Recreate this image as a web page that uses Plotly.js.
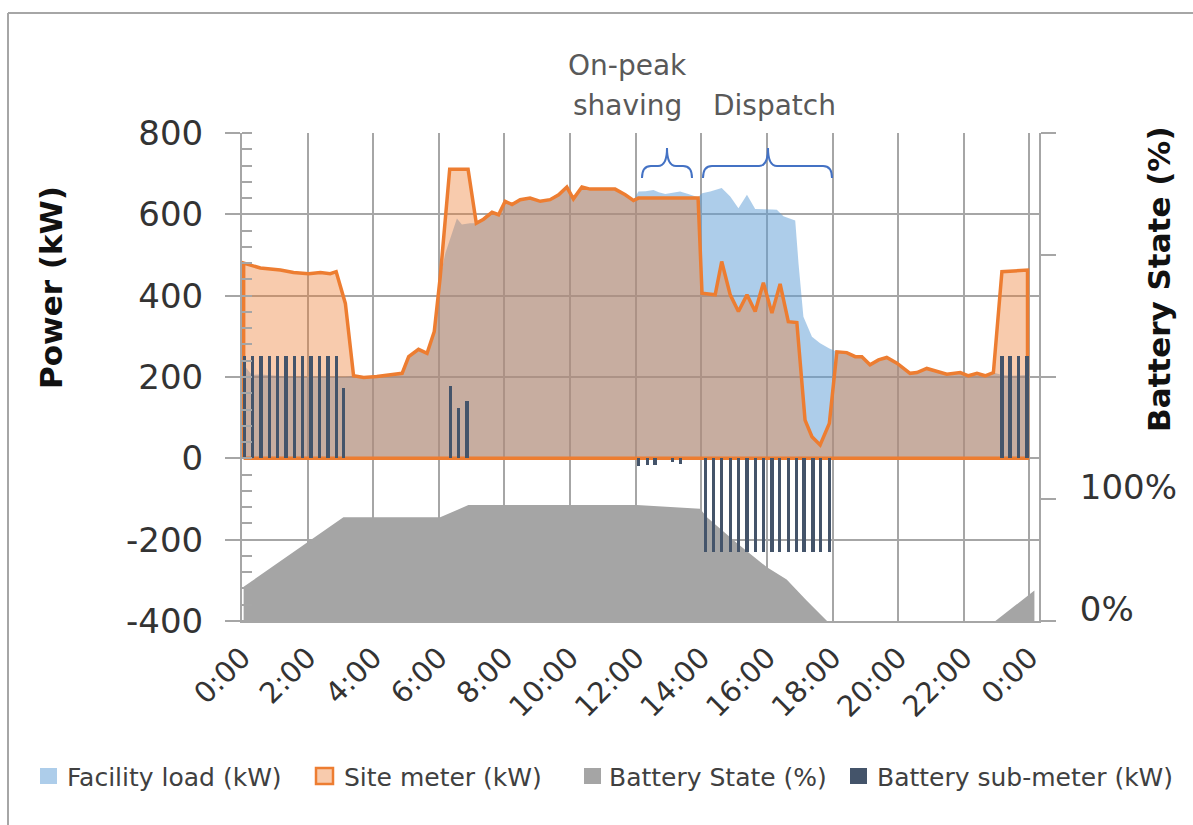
<!DOCTYPE html>
<html><head><meta charset="utf-8">
<script src="https://cdn.plot.ly/plotly-3.0.1.min.js"></script>
<style>html,body{margin:0;padding:0;background:#fff;}#chart{width:1193px;height:825px;}</style>
</head><body><div id="chart"></div>
<script>
// ---- data (hours of day) ----
const tickHours = [0, 2, 4, 6, 8, 10, 12, 14, 16, 18, 20, 22, 24];
const tickLabels = ['0:00','2:00','4:00','6:00','8:00','10:00','12:00','14:00','16:00','18:00','20:00','22:00','0:00'];

const powerTicks = [-400, -200, 0, 200, 400, 600, 800];
const powerTickLabels = ['-400', '-200', '0', '200', '400', '600', '800'];
const stateTicks = [0, 100, 200, 300, 400];
const stateTickLabels = ['0%', '100%', '', '', ''];

const siteTime = [0.05,0.56,1.17,1.57,2.03,2.39,2.69,2.87,3.15,3.4,3.71,4.11,4.42,4.88,5.08,5.38,5.64,5.86,6.04,6.33,6.89,7.14,7.36,7.62,7.82,8.02,8.23,8.48,8.78,9.09,9.39,9.65,9.9,10.1,10.36,10.61,10.92,11.37,11.68,11.93,12.08,13.9,14.02,14.42,14.62,14.88,15.13,15.39,15.64,15.89,16.15,16.4,16.65,16.91,17.16,17.37,17.62,17.9,18.13,18.43,18.69,18.89,19.14,19.4,19.65,19.96,20.36,20.57,20.87,21.18,21.48,21.89,22.14,22.4,22.65,22.9,23.16,23.94];
const siteKW = [480,468,463,457,454,457,454,459,381,203,199,201,205,209,250,268,258,312,445,711,711,578,588,605,599,632,624,636,640,632,636,648,667,638,667,662,662,662,648,634,640,640,406,402,484,402,361,402,361,432,357,429,336,334,94,53,33,86,262,260,250,250,230,242,248,234,209,211,221,213,207,211,203,209,203,211,459,463];

const facTime = [0.05,0.3,0.56,1.17,1.57,2.03,2.39,2.69,2.87,3.15,3.4,3.71,4.11,4.42,4.88,5.08,5.38,5.64,5.86,6.04,6.2,6.35,6.55,6.7,6.95,7.14,7.36,7.62,7.82,8.02,8.23,8.48,8.78,9.09,9.39,9.65,9.9,10.1,10.36,10.61,10.92,11.37,11.68,11.93,12.08,12.3,12.54,12.7,12.9,13.1,13.35,13.6,13.9,14.02,14.27,14.62,14.88,15.13,15.39,15.64,15.89,16.15,16.3,16.5,16.86,16.96,17.11,17.37,17.62,17.9,18.13,18.43,18.69,18.89,19.14,19.4,19.65,19.96,20.36,20.57,20.87,21.18,21.48,21.89,22.14,22.4,22.65,22.9,23.16,23.5,23.94];
const facKW = [230,205,206,203,200,200,201,200,200,200,203,199,201,205,209,250,268,258,312,445,505,540,590,575,578,578,588,605,599,632,624,636,640,632,636,648,667,638,667,662,662,662,648,634,656,657,660,654,650,652,656,650,642,652,656,665,644,615,648,613,613,612,611,595,585,480,348,299,283,270,262,260,250,250,230,242,248,234,209,211,221,213,207,211,203,209,203,211,205,203,205];

const batTime = [0.05,3.09,6.04,6.9,12.03,13.96,14.17,15.08,16.0,16.6,17.2,17.83,22.96,24.15];
const batPct = [28,85,85,95,95,92,85,64,44,34,17,0,0,25];

const barTime = [0.07,0.33,0.58,0.83,1.09,1.34,1.6,1.85,2.1,2.36,2.62,2.87,3.09,
  6.36,6.6,6.86,
  12.08,12.36,12.59,13.13,13.36,
  14.12,14.37,14.62,14.88,15.13,15.39,15.64,15.89,16.15,16.38,16.66,16.89,17.13,17.4,17.64,17.9,
  23.16,23.41,23.66,23.92];
const barKW = [252,252,252,252,252,252,252,252,252,252,252,252,173,
  178,125,141,
  -19,-16,-16,-8,-14,
  -231,-231,-231,-231,-231,-231,-231,-231,-231,-231,-231,-231,-231,-231,-231,-231,
  252,252,252,252];

const seriesNames = ['Facility load (kW)', 'Site meter (kW)', 'Battery State (%)', 'Battery sub-meter (kW)'];

// ---- layout helpers (pixel -> paper) ----
const W = 1193, H = 825, M = {l: 242, r: 154, t: 133, b: 204};
const PW = W - M.l - M.r, PH = H - M.t - M.b;
const px = p => (p - M.l) / PW;
const py = p => (H - M.b - p) / PH;
const FONT = 'DejaVu Sans';
const GRID = '#A6A6A6';

// closed outline for the site meter area (Excel draws the full border)
const siteX = [siteTime[0]].concat(siteTime, [siteTime[siteTime.length - 1], siteTime[0]]);
const siteY = [0].concat(siteKW, [0, 0]);

const traces = [
  {name: seriesNames[2], x: batTime, y: batPct, yaxis: 'y', type: 'scatter', mode: 'lines',
   fill: 'tozeroy', fillcolor: '#A5A5A5', line: {width: 0, color: '#A5A5A5'}, showlegend: false, hoverinfo: 'skip'},
  {name: seriesNames[0], x: facTime, y: facKW, yaxis: 'y2', type: 'scatter', mode: 'lines',
   fill: 'tozeroy', fillcolor: 'rgba(91,155,213,0.5)', line: {width: 0, color: 'rgba(91,155,213,0.5)'}, showlegend: false},
  {name: seriesNames[1], x: siteX, y: siteY, yaxis: 'y2', type: 'scatter', mode: 'lines',
   fill: 'toself', fillcolor: 'rgba(237,125,49,0.40)', line: {width: 3.5, color: '#ED7D31'}, showlegend: false},
  {name: seriesNames[3], x: barTime, y: barKW, yaxis: 'y3', type: 'bar', width: 0.1,
   marker: {color: '#44546A', line: {width: 0}}, showlegend: false}
];

function bracePath(x0, x1, xc) {
  const yE = 178, yM = 166, yT = 148, r = 9;
  return `M${px(x0)},${py(yE)} Q${px(x0)},${py(yM)} ${px(x0 + r)},${py(yM)} ` +
         `L${px(xc - r)},${py(yM)} Q${px(xc)},${py(yM)} ${px(xc)},${py(yT)} ` +
         `Q${px(xc)},${py(yM)} ${px(xc + r)},${py(yM)} L${px(x1 - r)},${py(yM)} ` +
         `Q${px(x1)},${py(yM)} ${px(x1)},${py(yE)}`;
}

const legendItems = [
  {sx: 40, tx: 65, fill: 'rgba(91,155,213,0.5)', line: null},
  {sx: 316, tx: 342, fill: '#F8CBAD', line: '#ED7D31'},
  {sx: 584, tx: 607, fill: '#A5A5A5', line: null},
  {sx: 850, tx: 875, fill: '#44546A', line: null}
];
const LEG_Y = 776;

const shapes = [
  {type: 'line', xref: 'paper', yref: 'paper', x0: px(8), x1: px(1200), y0: py(13), y1: py(13), line: {color: GRID, width: 2}},
  {type: 'line', xref: 'paper', yref: 'paper', x0: px(8), x1: px(8), y0: py(13), y1: py(830), line: {color: GRID, width: 2}},
  {type: 'path', xref: 'paper', yref: 'paper', path: bracePath(642, 692, 667), line: {color: '#4472C4', width: 2}},
  {type: 'path', xref: 'paper', yref: 'paper', path: bracePath(703, 832, 768), line: {color: '#4472C4', width: 2}}
];
legendItems.forEach(it => {
  shapes.push({type: 'rect', xref: 'paper', yref: 'paper', x0: px(it.sx), x1: px(it.sx + 17),
    y0: py(LEG_Y + 8), y1: py(LEG_Y - 8), fillcolor: it.fill,
    line: it.line ? {color: it.line, width: 2.5} : {width: 0}});
});

const ann = (text, x, y, size, color, extra) => Object.assign({
  text: text, x: px(x), y: py(y), xref: 'paper', yref: 'paper', xanchor: 'center', yanchor: 'middle',
  showarrow: false, font: {family: FONT, size: size, color: color}}, extra || {});

const annotations = [
  ann('<b>Power (kW)</b>', 51, 288, 31, '#111', {textangle: -90}),
  ann('<b>Battery State (%)</b>', 1159, 279, 31, '#111', {textangle: -90}),
  ann('On-peak', 627.5, 66, 28, '#595959'),
  ann('shaving', 627.5, 105, 28, '#595959'),
  ann('Dispatch', 774, 105, 28, '#595959')
];
legendItems.forEach((it, i) => {
  annotations.push(ann(seriesNames[i], it.tx, LEG_Y + 1, 25, '#404040', {xanchor: 'left'}));
});

const layout = {
  width: W, height: H,
  margin: {l: M.l, r: M.r, t: M.t, b: M.b, pad: 0},
  paper_bgcolor: '#fff', plot_bgcolor: '#fff',
  showlegend: false,
  font: {family: FONT, color: '#333'},
  xaxis: {range: [0, 24.29], tickmode: 'array', tickvals: tickHours, ticktext: tickLabels, tickangle: -45,
    showgrid: true, gridcolor: GRID, gridwidth: 2, showline: true, linecolor: GRID, linewidth: 2,
    ticks: '', ticklabelstandoff: 6, zeroline: false, tickfont: {family: FONT, size: 29, color: '#333'}},
  yaxis: {range: [0, 400], side: 'right', tickmode: 'array', tickvals: stateTicks, ticktext: stateTickLabels,
    ticks: 'outside', ticklen: 15, tickwidth: 2, tickcolor: GRID, showline: true, linecolor: GRID, linewidth: 2,
    showgrid: false, zeroline: false, ticklabelshift: -12, ticklabelstandoff: 17,
    tickfont: {family: FONT, size: 34, color: '#333'}},
  yaxis2: {range: [-400, 800], overlaying: 'y', side: 'left', tickmode: 'array', tickvals: powerTicks, ticktext: powerTickLabels,
    ticks: 'outside', ticklen: 15, tickwidth: 2, tickcolor: GRID, showline: true, linecolor: GRID, linewidth: 2,
    showgrid: true, gridcolor: GRID, gridwidth: 2, zeroline: false, ticklabelstandoff: 15,
    minor: {ticks: 'inside', ticklen: 10, dtick: 40, tick0: 0, tickcolor: GRID, tickwidth: 2, showgrid: false},
    tickfont: {family: FONT, size: 34, color: '#333'}},
  yaxis3: {range: [-400, 800], overlaying: 'y', visible: false},
  bargap: 0,
  shapes: shapes,
  annotations: annotations
};

Plotly.newPlot('chart', traces, layout, {displayModeBar: false, staticPlot: true});
</script>
</body></html>
